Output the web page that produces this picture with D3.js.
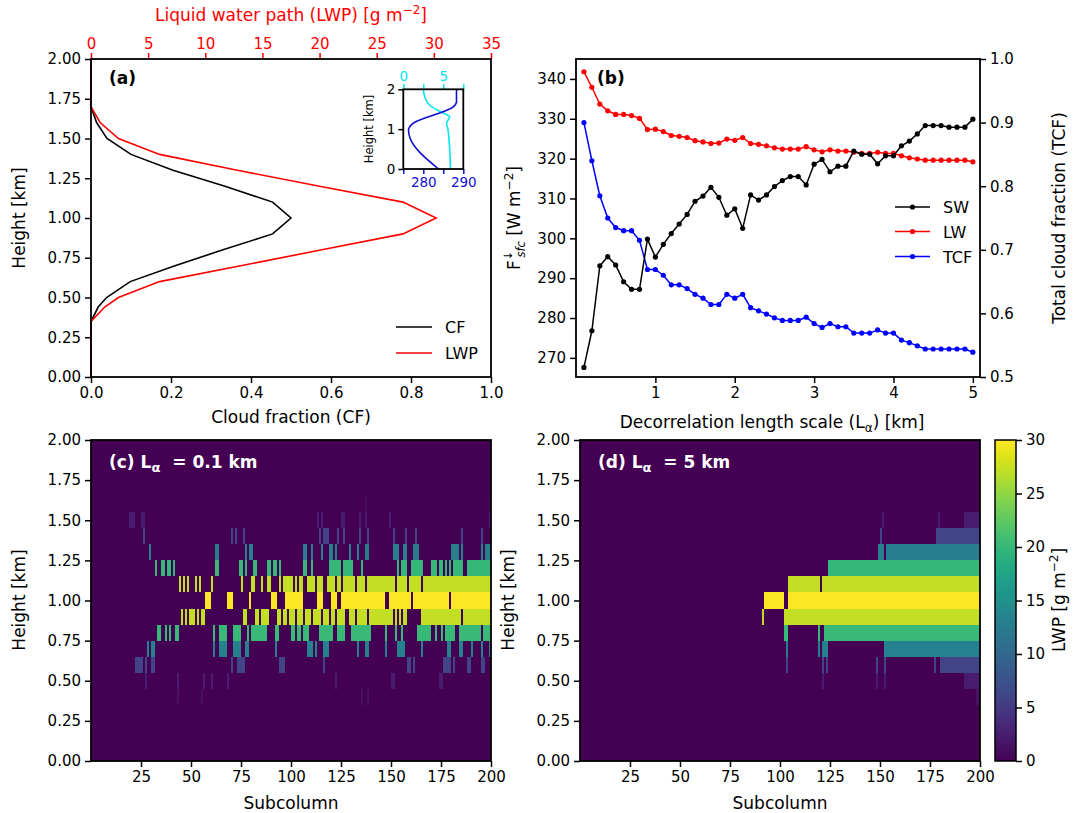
<!DOCTYPE html>
<html><head><meta charset="utf-8">
<script src="https://cdn.jsdelivr.net/npm/d3@7"></script>
<style>body{margin:0;background:#fff;} svg text{font-family:"DejaVu Sans",sans-serif;}</style>
</head><body><svg id="fig" width="1088" height="813" xmlns="http://www.w3.org/2000/svg"></svg>
<script>
// ---------------- DATA ----------------
// Panel (a): mean profiles
const heightsA = [0, 0.35, 0.44, 0.5, 0.6, 0.7, 0.8, 0.9, 1.0, 1.1, 1.2, 1.3, 1.4, 1.5, 1.6, 1.7, 2.0];
const cfA      = [0, 0, 0.018, 0.039, 0.098, 0.21, 0.33, 0.454, 0.50, 0.454, 0.335, 0.205, 0.10, 0.04, 0.014, 0, 0];
const lwpA     = [0, 0, 1.2, 2.4, 6.0, 13.1, 20.2, 27.3, 30.2, 27.3, 20.0, 12.8, 6.0, 2.4, 0.8, 0, 0];
// Inset: temperature and water vapour
const heightsT = [0, 0.77, 0.98, 1.15, 1.56, 1.69, 2.0];
const tempT    = [283.8, 276.7, 276.3, 277.5, 287.5, 288.3, 288.3];
const heightsQ = [0, 0.98, 1.15, 1.31, 1.44, 1.6, 1.8, 2.0];
const qQ       = [5.9, 5.6, 5.4, 5.8, 4.6, 3.3, 2.7, 2.5];
// Panel (b)
const lAlpha = [0.1,0.2,0.3,0.4,0.5,0.6,0.7,0.8,0.9,1.0,1.1,1.2,1.3,1.4,1.5,1.6,1.7,1.8,1.9,2.0,2.1,2.2,2.3,2.4,2.5,2.6,2.7,2.8,2.9,3.0,3.1,3.2,3.3,3.4,3.5,3.6,3.7,3.8,3.9,4.0,4.1,4.2,4.3,4.4,4.5,4.6,4.7,4.8,4.9,5.0];
const swFlux = [267.6,276.8,293.1,295.4,293.3,289.1,287.2,287.2,299.8,295.3,298.5,301.2,303.6,306.0,309.3,310.6,312.8,310.3,305.8,307.4,302.5,310.9,309.6,310.9,313.0,314.5,315.5,315.5,313.4,318.6,319.8,316.7,318.1,318.1,321.9,321.1,321.1,318.7,320.7,320.7,323.2,324.4,326.2,328.3,328.3,328.3,327.9,327.9,327.9,329.9];
const lwFlux = [341.8,337.9,333.7,332.0,331.1,331.1,330.8,330.1,327.3,327.4,326.8,325.8,325.6,325.3,324.5,324.2,323.8,323.9,324.9,324.6,325.3,323.8,323.6,323.2,322.7,322.4,322.4,322.4,323.0,322.2,321.7,322.2,321.9,321.9,321.6,321.3,321.3,321.6,321.3,321.3,320.7,320.2,319.9,319.6,319.6,319.6,319.6,319.6,319.6,319.2];
const tcf    = [0.900,0.840,0.785,0.750,0.735,0.730,0.730,0.715,0.669,0.669,0.660,0.645,0.645,0.639,0.630,0.624,0.614,0.614,0.630,0.624,0.630,0.609,0.604,0.599,0.593,0.589,0.589,0.589,0.594,0.584,0.578,0.584,0.579,0.579,0.569,0.569,0.569,0.574,0.569,0.569,0.558,0.554,0.549,0.544,0.544,0.544,0.544,0.544,0.544,0.539];
// Panels (c),(d): cloudy subcolumn runs per level [first, last] (0-based subcolumn index)
const hmLevels = [0.4,0.5,0.6,0.7,0.8,0.9,1.0,1.1,1.2,1.3,1.4,1.5,1.6];
const hmLWP    = [1.2,2.4,6.0,13.1,20.2,27.3,30.2,27.3,20.0,12.8,6.0,2.4,0.8];
const runsC = [
 [[43,43],[55,55],[135,135],[138,138]],
 [[27,27],[43,43],[56,56],[60,60],[68,68],[122,122],[150,151],[174,175]],
 [[22,25],[27,27],[30,31],[70,70],[73,76],[94,96],[116,116],[158,159],[161,161],[176,179],[181,181],[188,189],[195,196]],
 [[28,28],[30,31],[61,61],[64,67],[71,74],[77,78],[92,92],[108,110],[112,112],[116,118],[133,133],[137,138],[147,147],[153,156],[165,165],[178,179],[184,185],[190,190],[195,195],[199,199]],
 [[33,34],[37,37],[39,39],[42,43],[61,61],[64,67],[71,74],[78,78],[80,87],[92,93],[100,101],[103,104],[106,108],[114,120],[123,126],[130,139],[147,147],[152,152],[155,155],[163,169],[172,172],[175,175],[177,181],[184,194],[196,199]],
 [[45,45],[47,47],[49,51],[53,53],[55,56],[76,77],[82,83],[85,88],[93,94],[96,97],[99,101],[103,105],[107,109],[111,114],[116,118],[120,121],[123,126],[129,131],[133,137],[139,150],[152,152],[154,154],[156,157],[165,184],[186,199]],
 [[57,59],[68,70],[79,79],[90,92],[97,105],[113,115],[120,122],[125,146],[149,159],[161,178],[180,199]],
 [[44,44],[46,46],[48,48],[52,52],[54,54],[60,60],[75,75],[80,81],[85,85],[88,89],[94,94],[96,100],[102,102],[104,105],[108,111],[113,115],[118,121],[123,124],[126,131],[133,136],[138,151],[153,157],[159,164],[166,199]],
 [[32,32],[35,36],[38,39],[41,41],[62,63],[74,75],[77,77],[81,82],[88,89],[91,92],[94,94],[106,107],[110,110],[119,124],[126,130],[135,135],[153,153],[155,157],[160,165],[170,172],[174,175],[177,177],[179,179],[181,185],[188,199]],
 [[29,29],[62,63],[77,77],[79,80],[106,107],[110,110],[115,115],[119,120],[122,122],[129,129],[133,133],[137,138],[151,153],[156,157],[161,163],[180,183],[185,185],[195,195],[197,199]],
 [[26,26],[70,70],[72,72],[76,76],[114,114],[116,118],[123,123],[126,126],[134,134],[138,138],[151,151],[157,157],[162,162],[185,185],[195,195]],
 [[19,21],[25,26],[113,113],[115,115],[125,126],[134,134],[137,137],[149,149],[199,199]],
 [[137,137],[199,199]]
];
const runsD = [
 [[198,199]],
 [[121,121],[148,148],[152,152],[192,199]],
 [[103,103],[121,121],[123,123],[148,148],[152,152],[177,177],[180,199]],
 [[103,103],[119,119],[121,123],[152,199]],
 [[102,103],[119,119],[122,199]],
 [[91,91],[102,199]],
 [[92,101],[104,199]],
 [[104,119],[121,199]],
 [[124,199]],
 [[149,151],[153,199]],
 [[150,150],[178,199]],
 [[151,151],[179,179],[192,199]],
 []
];
// Tick values
const heightTicks = [0,0.25,0.5,0.75,1.0,1.25,1.5,1.75,2.0];
const cfTicks = [0,0.2,0.4,0.6,0.8,1.0];
const lwpTicks = [0,5,10,15,20,25,30,35];
const lTicks = [1,2,3,4,5];
const fluxTicks = [270,280,290,300,310,320,330,340];
const tcfTicks = [0.5,0.6,0.7,0.8,0.9,1.0];
const subTicks = [25,50,75,100,125,150,175,200];
const cbTicks = [0,5,10,15,20,25,30];

// ---------------- DRAW ----------------
const svg = d3.select('#fig');
const FS = 15;   // tick labels
const LS = 17;   // axis labels
function styleAxis(g, color, fs){
  color = color || '#000'; fs = fs || FS;
  g.select('.domain').remove();
  g.selectAll('.tick line').attr('stroke', color).attr('stroke-width', 1.5);
  g.selectAll('.tick text').attr('fill', color).style('font-size', fs+'px').style('font-family','DejaVu Sans');
  return g;
}
function frame(x0,y0,x1,y1,sw){
  svg.append('rect').attr('x',x0).attr('y',y0).attr('width',x1-x0).attr('height',y1-y0)
    .attr('fill','none').attr('stroke','#000').attr('stroke-width',sw||1.8);
}
function vlabel(x,y,txt,size){
  return svg.append('text').attr('transform',`translate(${x},${y}) rotate(-90)`).attr('text-anchor','middle')
    .style('font-size',(size||LS)+'px').text(txt);
}
function hlabel(x,y,txt,size,color){
  return svg.append('text').attr('x',x).attr('y',y).attr('text-anchor','middle')
    .style('font-size',(size||LS)+'px').attr('fill',color||'#000').text(txt);
}

// ===== Panel (a) =====
const A = {x0:91, x1:491, y0:59, y1:377};
const xA = d3.scaleLinear().domain([0,1]).range([A.x0,A.x1]);
const xL = d3.scaleLinear().domain([0,35]).range([A.x0,A.x1]);
const yA = d3.scaleLinear().domain([0,2]).range([A.y1,A.y0]);
const profA = heightsA.map((h,i)=>({h, cf:cfA[i], lwp:lwpA[i]}));
svg.append('path').datum(profA).attr('fill','none').attr('stroke','#000').attr('stroke-width',1.6)
  .attr('d', d3.line().x(d=>xA(d.cf)).y(d=>yA(d.h)));
svg.append('path').datum(profA).attr('fill','none').attr('stroke','#ff0000').attr('stroke-width',1.6)
  .attr('d', d3.line().x(d=>xL(d.lwp)).y(d=>yA(d.h)));
styleAxis(svg.append('g').attr('transform',`translate(0,${A.y1})`).call(d3.axisBottom(xA).tickValues(cfTicks).tickFormat(d3.format('.1f')).tickSize(6).tickPadding(4)));
styleAxis(svg.append('g').attr('transform',`translate(${A.x0},0)`).call(d3.axisLeft(yA).tickValues(heightTicks).tickFormat(d3.format('.2f')).tickSize(6).tickPadding(4)));
styleAxis(svg.append('g').attr('transform',`translate(0,${A.y0})`).call(d3.axisTop(xL).tickValues(lwpTicks).tickFormat(d3.format('d')).tickSize(6).tickPadding(4)), '#ff0000');
frame(A.x0,A.y0,A.x1,A.y1);
svg.append('text').attr('x',109).attr('y',84).style('font-size','17px').style('font-weight','bold').text('(a)');
hlabel(291,423,'Cloud fraction (CF)');
const topLab = svg.append('text').attr('x',291).attr('y',21).attr('text-anchor','middle').style('font-size',LS+'px').attr('fill','#ff0000');
topLab.append('tspan').text('Liquid water path (LWP) [g m');
topLab.append('tspan').attr('dy',-7).style('font-size','12px').text('−2');
topLab.append('tspan').attr('dy',7).text(']');
vlabel(25,218,'Height [km]');
// legend (a)
[['CF','#000',327],['LWP','#ff0000',353]].forEach(([t,c,y])=>{
  svg.append('line').attr('x1',396).attr('x2',432).attr('y1',y).attr('y2',y).attr('stroke',c).attr('stroke-width',1.6);
  svg.append('text').attr('x',445).attr('y',y+6).style('font-size','16px').text(t);
});
// inset
const I = {x0:403.3, x1:463.3, y0:89.3, y1:169};
const xT = d3.scaleLinear().domain([275,290]).range([I.x0,I.x1]);
const xQ = d3.scaleLinear().domain([0,7.5]).range([I.x0,I.x1]);
const yI = d3.scaleLinear().domain([0,2]).range([I.y1,I.y0]);
svg.append('rect').attr('x',I.x0).attr('y',I.y0).attr('width',I.x1-I.x0).attr('height',I.y1-I.y0).attr('fill','#fff');
svg.append('path').datum(heightsQ.map((h,i)=>[qQ[i],h])).attr('fill','none').attr('stroke','#00e5ee').attr('stroke-width',1.6)
  .attr('d', d3.line().curve(d3.curveMonotoneY).x(d=>xQ(d[0])).y(d=>yI(d[1])));
svg.append('path').datum(heightsT.map((h,i)=>[tempT[i],h])).attr('fill','none').attr('stroke','#1010d0').attr('stroke-width',1.6)
  .attr('d', d3.line().curve(d3.curveMonotoneY).x(d=>xT(d[0])).y(d=>yI(d[1])));
styleAxis(svg.append('g').attr('transform',`translate(0,${I.y1})`).call(d3.axisBottom(xT).tickValues([275,280,285,290]).tickFormat(d=>(d%10===0?d:'')).tickSize(5).tickPadding(3)), '#1010d0', 13.5);
styleAxis(svg.append('g').attr('transform',`translate(0,${I.y0})`).call(d3.axisTop(xQ).tickValues([0,2.5,5,7.5]).tickFormat(d=>(d%5===0?d:'')).tickSize(5).tickPadding(3)), '#00e5ee', 13.5);
styleAxis(svg.append('g').attr('transform',`translate(${I.x0},0)`).call(d3.axisLeft(yI).tickValues([0,1,2]).tickFormat(d3.format('d')).tickSize(5).tickPadding(3)), '#000', 13.5);
frame(I.x0,I.y0,I.x1,I.y1,1.8);
vlabel(373,129,'Height [km]',11.5);

// ===== Panel (b) =====
const B = {x0:576, x1:980, y0:59, y1:377};
const xB = d3.scaleLinear().domain([0,5.09]).range([B.x0,B.x1]);
const yBL = d3.scaleLinear().domain([265.2,345.0]).range([B.y1,B.y0]);
const yBR = d3.scaleLinear().domain([0.5,1.0]).range([B.y1,B.y0]);
function series(vals, ys, color){
  const pts = lAlpha.map((x,i)=>[x,vals[i]]);
  svg.append('path').datum(pts).attr('fill','none').attr('stroke',color).attr('stroke-width',1.5)
    .attr('d', d3.line().x(d=>xB(d[0])).y(d=>ys(d[1])));
  svg.append('g').selectAll('circle').data(pts).join('circle').attr('cx',d=>xB(d[0])).attr('cy',d=>ys(d[1])).attr('r',2.6).attr('fill',color);
}
series(lwFlux, yBL, '#ff0000');
series(tcf, yBR, '#0000ff');
series(swFlux, yBL, '#000');
styleAxis(svg.append('g').attr('transform',`translate(0,${B.y1})`).call(d3.axisBottom(xB).tickValues(lTicks).tickFormat(d3.format('d')).tickSize(6).tickPadding(4)));
styleAxis(svg.append('g').attr('transform',`translate(${B.x0},0)`).call(d3.axisLeft(yBL).tickValues(fluxTicks).tickFormat(d3.format('d')).tickSize(6).tickPadding(4)));
styleAxis(svg.append('g').attr('transform',`translate(${B.x1},0)`).call(d3.axisRight(yBR).tickValues(tcfTicks).tickFormat(d3.format('.1f')).tickSize(6).tickPadding(4)));
frame(B.x0,B.y0,B.x1,B.y1);
svg.append('text').attr('x',597).attr('y',84).style('font-size','17px').style('font-weight','bold').text('(b)');
const xlb = svg.append('text').attr('x',772).attr('y',428).attr('text-anchor','middle').style('font-size',LS+'px');
xlb.append('tspan').text('Decorrelation length scale (L');
xlb.append('tspan').attr('dy',4).style('font-size','12px').text('α');
xlb.append('tspan').attr('dy',-4).text(') [km]');
vlabel(1065,218,'Total cloud fraction (TCF)');
const ylb = svg.append('text').attr('transform','translate(520,218) rotate(-90)').attr('text-anchor','middle').style('font-size',LS+'px');
ylb.append('tspan').text('F');
ylb.append('tspan').attr('dy',-8).style('font-size','11.5px').text('↓');
ylb.append('tspan').attr('dx',-7).attr('dy',13).style('font-size','11.5px').style('font-style','italic').text('sfc');
ylb.append('tspan').attr('dy',-5).text(' [W m');
ylb.append('tspan').attr('dy',-7).style('font-size','12px').text('−2');
ylb.append('tspan').attr('dy',7).text(']');
// legend (b)
[['SW','#000',207],['LW','#ff0000',231.5],['TCF','#0000ff',256.5]].forEach(([t,c,y])=>{
  svg.append('line').attr('x1',895).attr('x2',930).attr('y1',y).attr('y2',y).attr('stroke',c).attr('stroke-width',1.5);
  svg.append('circle').attr('cx',912.5).attr('cy',y).attr('r',2.6).attr('fill',c);
  svg.append('text').attr('x',943).attr('y',y+6).style('font-size','16px').text(t);
});

// ===== Panels (c), (d) =====
const color = d3.scaleSequential(d3.interpolateViridis).domain([0,30]);
function heat(P, runs, label, sub){
  const x = d3.scaleLinear().domain([0,200]).range([P.x0,P.x1]);
  const y = d3.scaleLinear().domain([0,2]).range([P.y1,P.y0]);
  svg.append('rect').attr('x',P.x0).attr('y',P.y0).attr('width',P.x1-P.x0).attr('height',P.y1-P.y0).attr('fill',color(0));
  const cells = [];
  runs.forEach((lr,li)=>lr.forEach(r=>cells.push({lev:hmLevels[li], v:hmLWP[li], s:r[0], e:r[1]})));
  svg.append('g').selectAll('rect').data(cells).join('rect')
    .attr('x',d=>x(d.s)).attr('width',d=>x(d.e+1)-x(d.s))
    .attr('y',d=>y(d.lev+0.05)).attr('height',d=>y(d.lev-0.05)-y(d.lev+0.05))
    .attr('fill',d=>color(d.v)).attr('shape-rendering','crispEdges');
  styleAxis(svg.append('g').attr('transform',`translate(0,${P.y1})`).call(d3.axisBottom(x).tickValues(subTicks).tickFormat(d3.format('d')).tickSize(6).tickPadding(4)));
  styleAxis(svg.append('g').attr('transform',`translate(${P.x0},0)`).call(d3.axisLeft(y).tickValues(heightTicks).tickFormat(d3.format('.2f')).tickSize(6).tickPadding(4)));
  frame(P.x0,P.y0,P.x1,P.y1);
  const t = svg.append('text').attr('x',P.x0+18).attr('y',P.y0+28).attr('fill','#fff').style('font-size','17px').style('font-weight','bold');
  t.append('tspan').text(label+' L');
  t.append('tspan').attr('dy',4).style('font-size','13px').text('α');
  t.append('tspan').attr('dy',-4).attr('dx',6).text(' = '+sub+' km');
  hlabel((P.x0+P.x1)/2, 809, 'Subcolumn');
  vlabel(P.x0-66, 600, 'Height [km]');
}
heat({x0:91,x1:491,y0:440,y1:761}, runsC, '(c)', '0.1');
heat({x0:580,x1:980,y0:440,y1:761}, runsD, '(d)', '5');

// colorbar
const CB = {x0:995, x1:1016, y0:440, y1:761};
const defs = svg.append('defs');
const grad = defs.append('linearGradient').attr('id','vir').attr('x1',0).attr('y1',1).attr('x2',0).attr('y2',0);
d3.range(0,1.0001,0.05).forEach(t=>grad.append('stop').attr('offset',t).attr('stop-color',d3.interpolateViridis(t)));
svg.append('rect').attr('x',CB.x0).attr('y',CB.y0).attr('width',CB.x1-CB.x0).attr('height',CB.y1-CB.y0).attr('fill','url(#vir)');
const yCB = d3.scaleLinear().domain([0,30]).range([CB.y1,CB.y0]);
styleAxis(svg.append('g').attr('transform',`translate(${CB.x1},0)`).call(d3.axisRight(yCB).tickValues(cbTicks).tickFormat(d3.format('d')).tickSize(6).tickPadding(4)));
frame(CB.x0,CB.y0,CB.x1,CB.y1,1.5);
const cbl = svg.append('text').attr('transform','translate(1065,600) rotate(-90)').attr('text-anchor','middle').style('font-size',LS+'px');
cbl.append('tspan').text('LWP [g m');
cbl.append('tspan').attr('dy',-7).style('font-size','12px').text('−2');
cbl.append('tspan').attr('dy',7).text(']');
</script></body></html>
